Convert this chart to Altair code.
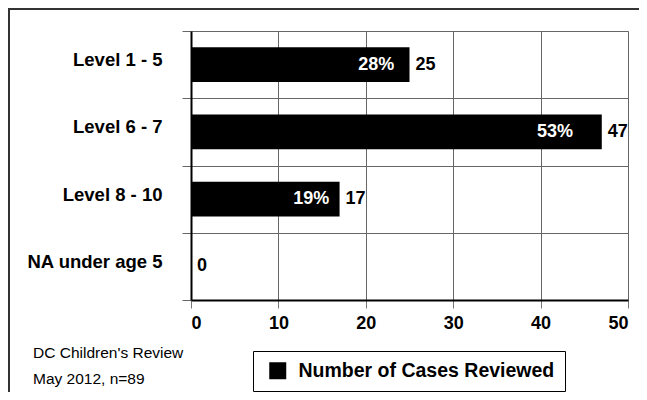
import altair as alt
import pandas as pd

categories = ["Level 1 - 5", "Level 6 - 7", "Level 8 - 10", "NA under age 5"]
cases = [25, 47, 17, 0]
percent_labels = ["28%", "53%", "19%", ""]
series_name = "Number of Cases Reviewed"
x_ticks = [0, 10, 20, 30, 40, 50]
notes = ["DC Children's Review", "May 2012, n=89"]

FONT = "Liberation Sans"

df = pd.DataFrame({
    "category": categories,
    "cases": cases,
    "pct": percent_labels,
    "series": [series_name] * len(categories),
})

base = alt.Chart(df)

y_enc = alt.Y(
    "category:N",
    sort=categories,
    scale=alt.Scale(paddingInner=0, paddingOuter=0),
    axis=alt.Axis(
        title=None,
        tickBand="extent",
        grid=True,
        gridColor="#666666",
        gridWidth=1,
        tickSize=9,
        tickColor="#666666",
        domainColor="black",
        domainWidth=2,
        labelPadding=20,
        labelFont=FONT,
        labelFontSize=18.5,
        labelFontWeight="bold",
        labelColor="black",
        labelOffset=-5,
    ),
)

x_enc = alt.X(
    "cases:Q",
    scale=alt.Scale(domain=[0, 50], nice=False),
    axis=alt.Axis(
        title=None,
        values=x_ticks,
        grid=True,
        gridColor="#666666",
        gridWidth=1,
        tickSize=8,
        tickColor="#777777",
        domainColor="black",
        domainWidth=2,
        labelPadding=6,
        labelFont=FONT,
        labelFontSize=18,
        labelFontWeight="bold",
        labelColor="black",
    ),
)

bars = base.mark_bar(height=alt.RelativeBandSize(0.516)).encode(
    y=y_enc,
    x=x_enc,
    color=alt.Color(
        "series:N",
        scale=alt.Scale(range=["black"]),
        legend=alt.Legend(
            title=None,
            orient="none",
            legendX=62,
            legendY=320,
            strokeColor="black",
            padding=10,
            symbolOffset=5,
            symbolType="square",
            symbolSize=289,
            symbolStrokeWidth=0,
            labelFont=FONT,
            labelFontSize=19.5,
            labelFontWeight="bold",
            labelColor="black",
            labelOffset=11,
            labelLimit=400,
        ),
    ),
)

value_text = base.mark_text(
    align="left", baseline="middle", dx=6,
    font=FONT, fontSize=18, fontWeight="bold", color="black",
).encode(
    y=alt.Y("category:N", sort=categories),
    x=alt.X("cases:Q"),
    text=alt.Text("cases:Q"),
)

pct_text = base.transform_filter(
    alt.datum.pct != ""
).transform_calculate(
    pos="datum.cases * 0.93"
).mark_text(
    align="right", baseline="middle",
    font=FONT, fontSize=18, fontWeight="bold", color="white",
).encode(
    y=alt.Y("category:N", sort=categories),
    x=alt.X("pos:Q"),
    text=alt.Text("pct:N"),
)

note1 = alt.Chart(pd.DataFrame({"t": [notes[0]]})).mark_text(
    align="left", baseline="alphabetic", font=FONT, fontSize=15.5, color="black",
).encode(x=alt.value(-158), y=alt.value(327), text=alt.Text("t:N"))

note2 = alt.Chart(pd.DataFrame({"t": [notes[1]]})).mark_text(
    align="left", baseline="alphabetic", font=FONT, fontSize=15.5, color="black",
).encode(x=alt.value(-158), y=alt.value(353), text=alt.Text("t:N"))

frame_df = pd.DataFrame({"a": [0]})
frame_top = alt.Chart(frame_df).mark_rule(stroke="#333333", strokeWidth=2).encode(
    x=alt.value(-183), x2=alt.value(900), y=alt.value(-22),
)
frame_left = alt.Chart(frame_df).mark_rule(stroke="#333333", strokeWidth=2).encode(
    x=alt.value(-182), y=alt.value(-23), y2=alt.value(900),
)

chart = alt.layer(frame_top, frame_left, bars, pct_text, value_text, note1, note2).properties(
    width=437,
    height=269,
    autosize=alt.AutoSizeParams(type="none"),
    padding={"left": 183, "top": 23, "right": 11, "bottom": 92},
).configure_view(stroke="transparent").configure(background="white")

chart.save("out.html", embed_options={"renderer": "svg", "actions": False})
